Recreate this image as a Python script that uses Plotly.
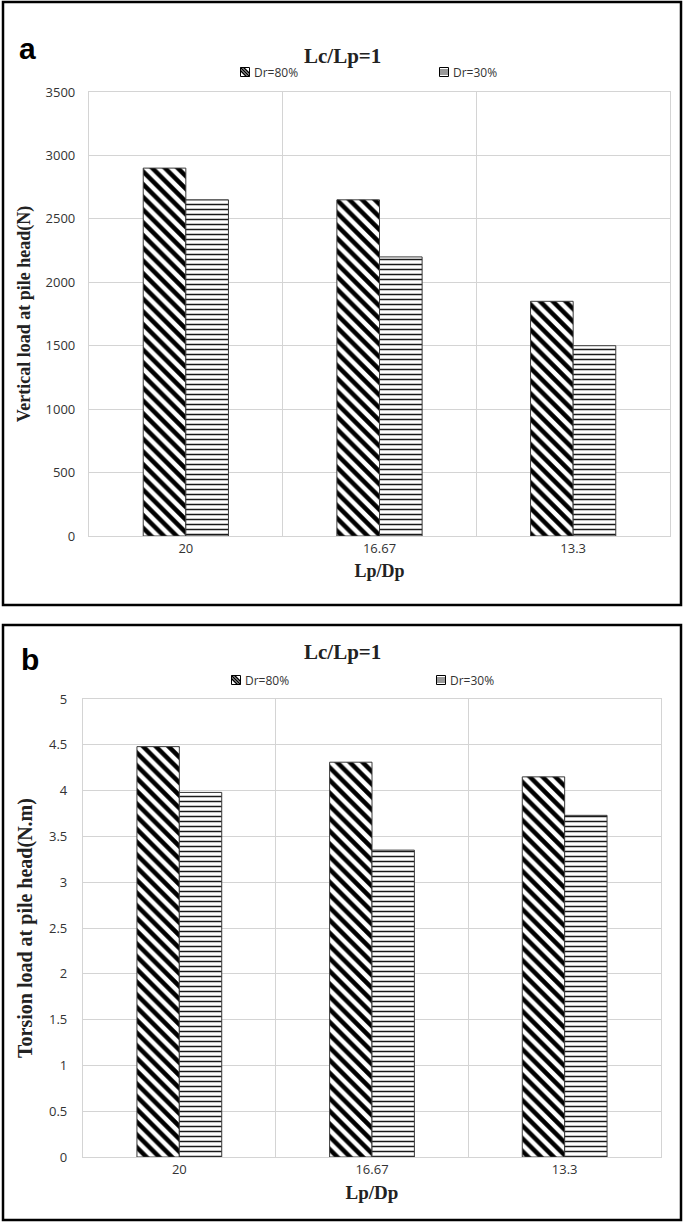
import plotly.graph_objects as go

categories = ["20", "16.67", "13.3"]
series_names = ["Dr=80%", "Dr=30%"]
vertical_dr80 = [2900, 2650, 1850]
vertical_dr30 = [2650, 2200, 1500]
torsion_dr80 = [4.48, 4.31, 4.15]
torsion_dr30 = [3.98, 3.35, 3.73]

W, H = 685, 1227
SERIF = "Liberation Serif"
SANS = "Open Sans"
GRID = "#d4d4d4"


def px_x(x):
    return x / W


def px_y(y):
    return 1 - y / H


pat_diag = dict(shape="\\", fgcolor="black", bgcolor="white", size=9, solidity=0.5)
pat_horiz = dict(shape="-", fgcolor="#1a1a1a", bgcolor="white", size=5, solidity=0.3)

fig = go.Figure()

for vals, name, pat, xa, ya in [
    (vertical_dr80, series_names[0], pat_diag, "x", "y"),
    (vertical_dr30, series_names[1], pat_horiz, "x", "y"),
    (torsion_dr80, series_names[0], pat_diag, "x2", "y2"),
    (torsion_dr30, series_names[1], pat_horiz, "x2", "y2"),
]:
    fig.add_trace(go.Bar(
        x=categories, y=vals, name=name, xaxis=xa, yaxis=ya, showlegend=False,
        marker=dict(color="white", pattern=pat, line=dict(color="#3a3a3a", width=1)),
    ))

axis_common = dict(showgrid=True, gridcolor=GRID, gridwidth=1.3, showline=True,
                   linecolor=GRID, linewidth=1.3, mirror=True, ticks="", zeroline=False,
                   automargin=False)

fig.update_layout(
    template="none",
    width=W, height=H,
    margin=dict(l=0, r=0, t=0, b=0, pad=0),
    paper_bgcolor="white", plot_bgcolor="white",
    barmode="group", bargap=0.56, bargroupgap=0,
    showlegend=False,
    xaxis=dict(domain=[px_x(89), px_x(670)], anchor="y", type="category",
               tickson="boundaries", tickfont=dict(family=SANS, size=13, color="#333"),
               title=dict(text="<b>Lp/Dp</b>", font=dict(family=SERIF, size=18, color="#222"), standoff=8),
               **axis_common),
    yaxis=dict(domain=[px_y(536), px_y(92)], anchor="x", range=[0, 3500], dtick=500,
               tickfont=dict(family=SANS, size=13, color="#333"), ticklabelstandoff=10,
               title=dict(text="<b>Vertical load at pile head(N)</b>",
                          font=dict(family=SERIF, size=18, color="#222"), standoff=10),
               **axis_common),
    xaxis2=dict(domain=[px_x(83), px_x(661)], anchor="y2", type="category",
                tickson="boundaries", tickfont=dict(family=SANS, size=13, color="#333"),
                title=dict(text="<b>Lp/Dp</b>", font=dict(family=SERIF, size=19, color="#222"), standoff=8),
                **axis_common),
    yaxis2=dict(domain=[px_y(1157), px_y(699)], anchor="x2", range=[0, 5], dtick=0.5,
                tickfont=dict(family=SANS, size=13, color="#333"), ticklabelstandoff=12,
                title=dict(text="<b>Torsion load at pile head(N.m)</b>",
                           font=dict(family=SERIF, size=20, color="#222"), standoff=10),
                **axis_common),
)

# panel frames
fig.add_shape(type="rect", xref="paper", yref="paper", x0=px_x(3), x1=px_x(681),
              y0=px_y(605), y1=px_y(2), line=dict(color="black", width=2.5))
fig.add_shape(type="rect", xref="paper", yref="paper", x0=px_x(3), x1=px_x(681),
              y0=px_y(1220), y1=px_y(625), line=dict(color="black", width=2.5))

# panel letters and titles
fig.add_annotation(text="<b>a</b>", xref="paper", yref="paper", x=px_x(17), y=px_y(30),
                   showarrow=False, font=dict(family="Liberation Sans", size=30, color="black"))
fig.add_annotation(text="<b>b</b>", xref="paper", yref="paper", x=px_x(19), y=px_y(659),
                   showarrow=False, font=dict(family="Liberation Sans", size=30, color="black"))
fig.add_annotation(text="<b>Lc/Lp=1</b>", xref="paper", yref="paper", x=px_x(342), y=px_y(42),
                   showarrow=False, font=dict(family=SERIF, size=21, color="#222"))
fig.add_annotation(text="<b>Lc/Lp=1</b>", xref="paper", yref="paper", x=px_x(342), y=px_y(652),
                   showarrow=False, font=dict(family=SERIF, size=21, color="#222"))


# custom legends (icon + text), pixel positions
def legend_entry(cx, cy, label, kind):
    s = 4.5
    x0, x1, y0, y1 = cx - s, cx + s, cy - s, cy + s
    fig.add_shape(type="rect", xref="paper", yref="paper", x0=px_x(x0), x1=px_x(x1),
                  y0=px_y(y1), y1=px_y(y0), line=dict(color="black", width=1),
                  fillcolor="white")
    if kind == "diag":
        for k in (-3, 0, 3):
            if k > 0:
                a0x, a0y, a1x, a1y = x0, y0 + k, x1 - k, y1
            elif k < 0:
                a0x, a0y, a1x, a1y = x0 - k, y0, x1, y1 + k
            else:
                a0x, a0y, a1x, a1y = x0, y0, x1, y1
            fig.add_shape(type="line", xref="paper", yref="paper", x0=px_x(a0x), y0=px_y(a0y),
                          x1=px_x(a1x), y1=px_y(a1y), line=dict(color="black", width=1.6))
    else:
        for k in (-2, 0, 2):
            fig.add_shape(type="line", xref="paper", yref="paper", x0=px_x(x0), y0=px_y(cy + k),
                          x1=px_x(x1), y1=px_y(cy + k), line=dict(color="black", width=0.8))
    fig.add_annotation(text=label, xref="paper", yref="paper", x=px_x(cx + 7), y=px_y(cy),
                       xanchor="left", yanchor="middle", showarrow=False,
                       font=dict(family=SANS, size=12, color="#333"))


legend_entry(245, 72, series_names[0], "diag")
legend_entry(444, 72, series_names[1], "horiz")
legend_entry(236, 680, series_names[0], "diag")
legend_entry(441, 680, series_names[1], "horiz")

fig.write_html(
    "out.html",
    config={"displayModeBar": False},
    post_script="document.body.style.margin='0px';document.body.style.padding='0px';"
                "document.documentElement.style.overflow='hidden';",
)
